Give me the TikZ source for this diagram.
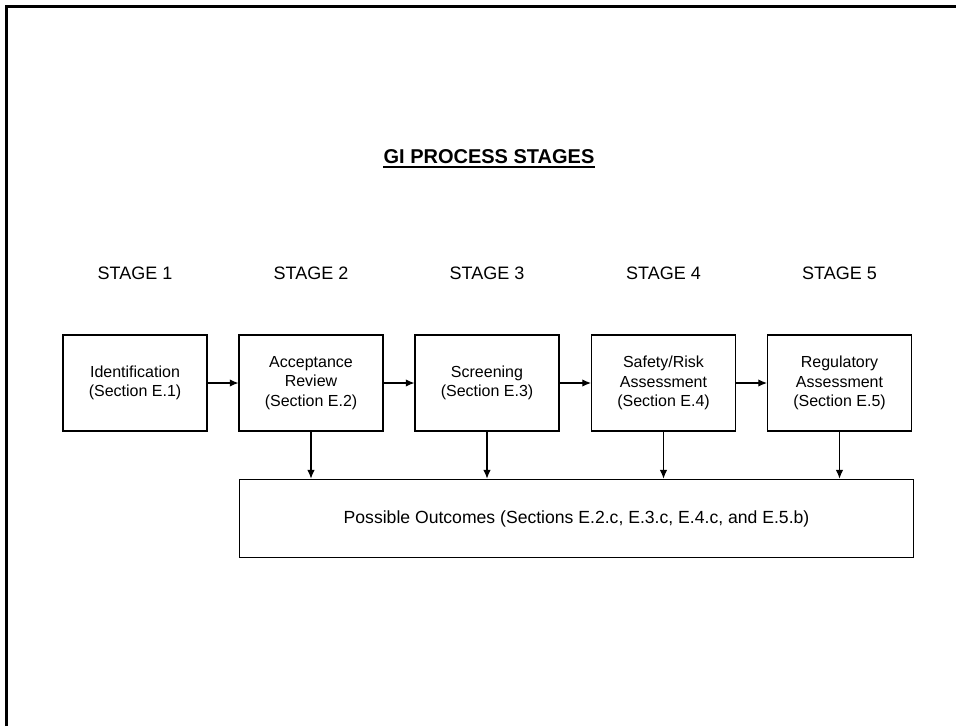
\documentclass[tikz,border=0pt]{standalone}
\usepackage{fontspec}
\setmainfont{Liberation Sans}
\usetikzlibrary{arrows.meta}
\begin{document}
\begin{tikzpicture}[x=0.75pt,y=-0.75pt,
  stagebox/.style={draw,line width=0.8pt,minimum width=108pt,minimum height=72pt,
    inner sep=0pt,align=center,font=\fontsize{12}{14.5}\selectfont},
  stagelbl/.style={font=\fontsize{13.5}{16}\selectfont},
  arr/.style={-{Latex[length=6.5pt,width=5.5pt]},line width=0.8pt},
  frame/.style={line width=1.6pt}]
\useasboundingbox (0,0) rectangle (956,726);
\draw[frame] (6.5,726) -- (6.5,6.5) -- (956,6.5);
\node[font=\bfseries\fontsize{15}{18}\selectfont,anchor=base,inner sep=0pt] (title) at (489,163) {GI PROCESS STAGES};
\draw[line width=1.3pt] ([yshift=-3pt]title.base west) -- ([yshift=-3pt]title.base east);
\node[stagelbl] (s1) at (135,273) {STAGE 1};
\node[stagelbl] (s2) at (311,273) {STAGE 2};
\node[stagelbl] (s3) at (487,273) {STAGE 3};
\node[stagelbl] (s4) at (663.5,273) {STAGE 4};
\node[stagelbl] (s5) at (839.5,273) {STAGE 5};
\node[stagebox] (b1) at (135,383) {Identification\\(Section E.1)};
\node[stagebox] (b2) at (311,383) {Acceptance\\Review\\(Section E.2)};
\node[stagebox] (b3) at (487,383) {Screening\\(Section E.3)};
\node[stagebox] (b4) at (663.5,383) {Safety/Risk\\Assessment\\(Section E.4)};
\node[stagebox] (b5) at (839.5,383) {Regulatory\\Assessment\\(Section E.5)};
\node[draw,line width=0.8pt,minimum width=506pt,minimum height=59pt,inner sep=0pt,
  font=\fontsize{13.2}{15}\selectfont] (out) at (576.5,518.5) {Possible Outcomes (Sections E.2.c, E.3.c, E.4.c, and E.5.b)};
\draw[arr] (b1) -- (b2);
\draw[arr] (b2) -- (b3);
\draw[arr] (b3) -- (b4);
\draw[arr] (b4) -- (b5);
\draw[arr] (b2.south) -- (b2.south |- out.north);
\draw[arr] (b3.south) -- (b3.south |- out.north);
\draw[arr] (b4.south) -- (b4.south |- out.north);
\draw[arr] (b5.south) -- (b5.south |- out.north);
\end{tikzpicture}
\end{document}
